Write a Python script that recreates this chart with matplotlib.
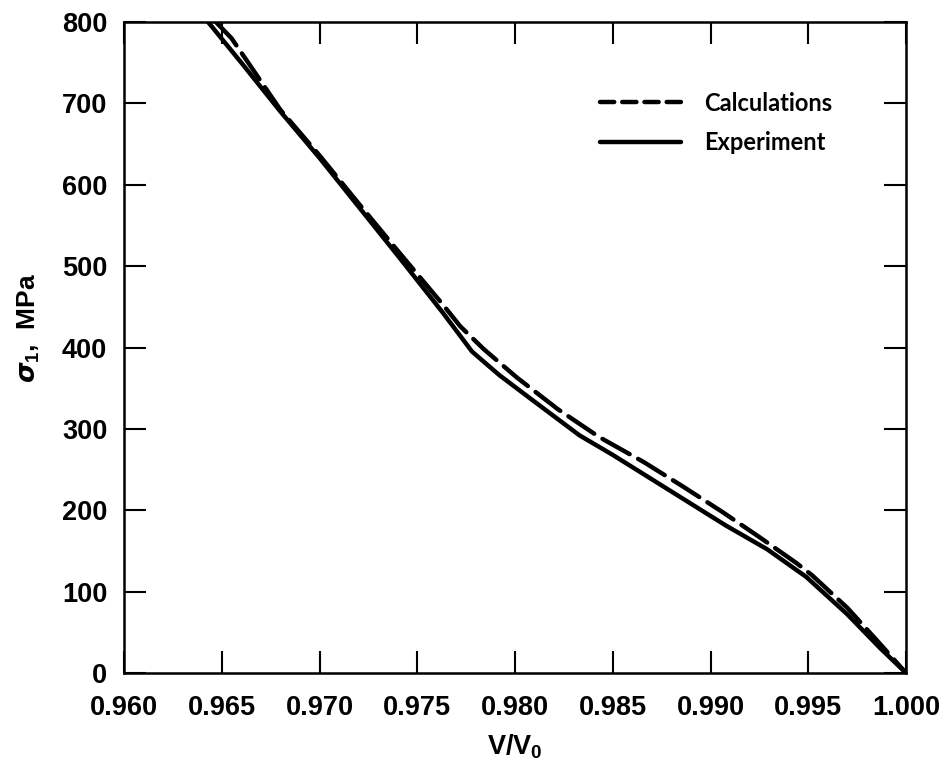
import matplotlib
matplotlib.use("Agg")
import matplotlib.pyplot as plt
from matplotlib.lines import Line2D

plt.rcParams['font.family'] = ['Liberation Sans', 'DejaVu Sans']
plt.rcParams['font.weight'] = 'bold'
plt.rcParams['mathtext.fontset'] = 'custom'
plt.rcParams['mathtext.it'] = 'DejaVu Sans:italic'
plt.rcParams['mathtext.rm'] = 'Liberation Sans:bold'
plt.rcParams['mathtext.bf'] = 'Liberation Sans:bold'

# Experimental stress-volume curve
exp_v = [0.9643, 0.9660, 0.9680, 0.9700, 0.9720, 0.9741, 0.9763, 0.9778,
         0.9792, 0.9808, 0.9833, 0.9850, 0.9878, 0.9908, 0.9929, 0.9949,
         0.9970, 0.9987, 1.0000]
exp_s = [800, 750, 690, 633, 573, 510, 443, 395,
         366, 337, 292, 268, 226, 181, 152, 118,
         72, 30, 0]

# Calculated stress-volume curve
calc_v = [0.9647, 0.9655, 0.9680, 0.9700, 0.9720, 0.9741, 0.9763, 0.9772,
          0.9784, 0.9801, 0.9822, 0.9843, 0.9866, 0.9886, 0.9906, 0.9925,
          0.9944, 0.9952, 0.9970, 0.9987, 1.0000]
calc_s = [800, 780, 692, 636, 577, 516, 453, 426,
          398, 363, 324, 290, 259, 229, 198, 167,
          135, 120, 80, 35, 0]

xticks = [0.960, 0.965, 0.970, 0.975, 0.980, 0.985, 0.990, 0.995, 1.000]
yticks = [0, 100, 200, 300, 400, 500, 600, 700, 800]

fig = plt.figure(figsize=(9.49, 7.65), dpi=100)
ax = fig.add_axes([0.1307, 0.1203, 0.8240, 0.8509])

ax.plot(calc_v, calc_s, color='black', lw=3.2, dashes=(7, 2.2),
        solid_capstyle='round', dash_capstyle='round')
ax.plot(exp_v, exp_s, color='black', lw=3.2, solid_capstyle='round')

ax.set_xlim(0.960, 1.000)
ax.set_ylim(0, 800)
ax.set_xticks(xticks)
ax.set_yticks(yticks)
ax.set_xticklabels([f"{t:.3f}" for t in xticks])
ax.set_yticklabels([str(t) for t in yticks])

ax.tick_params(direction='in', length=16, width=1.5, labelsize=19.5,
               top=True, right=True, pad=12)
ax.tick_params(axis='x', pad=16)
for side in ax.spines.values():
    side.set_linewidth(1.8)

ax.set_xlabel(r'V/V$_\mathrm{0}$', fontsize=19.5, fontweight='bold', labelpad=8)
ax.set_ylabel(r'$\sigma_\mathrm{1}$,  MPa', fontsize=19, fontweight='bold',
              labelpad=10)
ax.yaxis.set_label_coords(-0.105, 0.53)

handles = [Line2D([], [], color='black', lw=3.2, dashes=(3.2, 1.8),
                  dash_capstyle='round'),
           Line2D([], [], color='black', lw=3.2, solid_capstyle='round')]
ax.legend(handles, ['Calculations', 'Experiment'], loc='upper left',
          bbox_to_anchor=(0.609, 0.893), frameon=False,
          prop={'family': 'Lato', 'weight': 'bold', 'size': 17},
          handlelength=3.4, handletextpad=1.0, labelspacing=0.7,
          borderpad=0, borderaxespad=0)

fig.savefig('out.png', dpi=100)
